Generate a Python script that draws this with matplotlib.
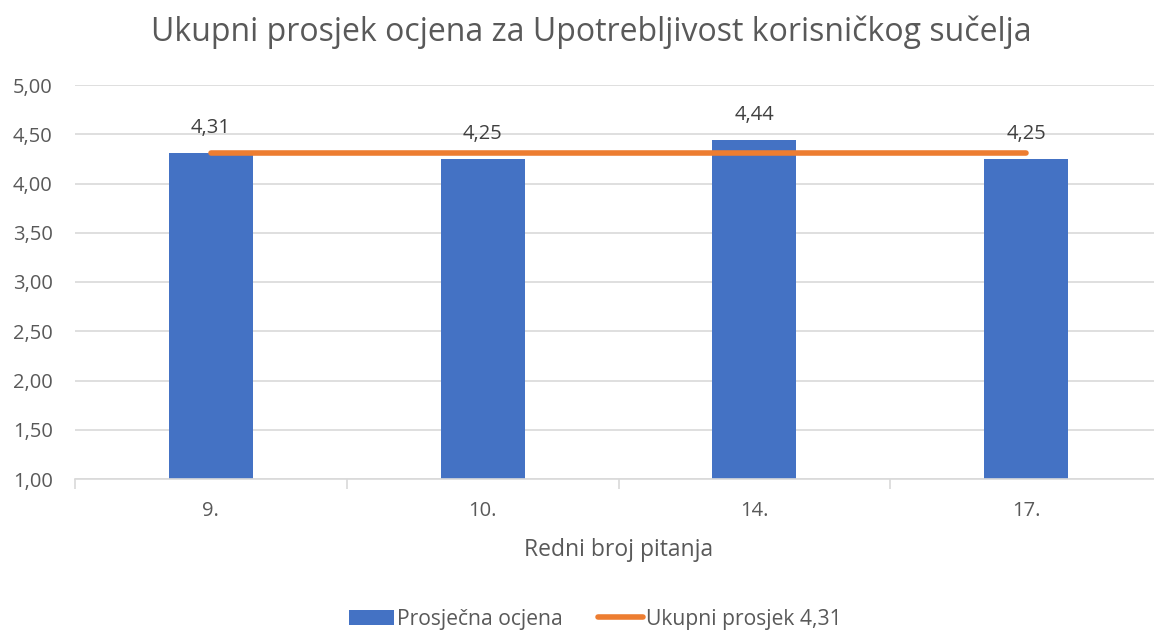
import matplotlib.pyplot as plt
import numpy as np

# podaci
pitanja = ['9.', '10.', '14.', '17.']
ocjene = [4.31, 4.25, 4.44, 4.25]
ukupni_prosjek = 4.31

plt.rcParams['font.family'] = ['Open Sans', 'DejaVu Sans']

siva = '#595959'
mreza = '#d9d9d9'
plava = '#4472c4'
narancasta = '#ed7d31'

fig = plt.figure(figsize=(11.54, 6.32), dpi=100)
ax = fig.add_axes([75 / 1154, 1 - 479 / 632, 1087 / 1154, (479 - 85) / 632])

x = np.arange(len(pitanja))
stupci = ax.bar(x, [o - 1 for o in ocjene], bottom=1, width=0.31, color=plava,
                label='Prosječna ocjena', zorder=2)
linija, = ax.plot([x[0], x[-1]], [ukupni_prosjek] * 2, color=narancasta, lw=4,
                  solid_capstyle='round', label='Ukupni prosjek 4,31', zorder=3)

for xi, o in zip(x, ocjene):
    ax.annotate(f'{o:.2f}'.replace('.', ','), (xi, o), xytext=(0, 18),
                textcoords='offset points', ha='center', va='center',
                fontsize=14.5, color='#404040')

ax.set_xlim(-0.5, len(pitanja) - 0.5)
ax.set_ylim(1, 5)
yt = np.arange(1, 5.01, 0.5)
ax.set_yticks(yt)
ax.set_yticklabels([f'{v:.2f}'.replace('.', ',') for v in yt])
ax.set_xticks(x)
ax.set_xticklabels(pitanja)
ax.set_xticks(np.arange(-0.5, len(pitanja), 1), minor=True)
ax.tick_params(axis='x', which='major', length=0, pad=16, labelsize=14.5, labelcolor=siva)
ax.tick_params(axis='x', which='minor', length=7, width=1.2, color=mreza)
ax.tick_params(axis='y', length=0, pad=16, labelsize=14.5, labelcolor=siva)

ax.grid(axis='y', color=mreza, lw=1.2, zorder=0)
for s in ['top', 'right', 'left']:
    ax.spines[s].set_visible(False)
ax.spines['bottom'].set_color(mreza)
ax.spines['bottom'].set_linewidth(1.2)

ax.set_xlabel('Redni broj pitanja', fontsize=16.5, color=siva, labelpad=12)
fig.text(0.5126, 1 - 32 / 632, 'Ukupni prosjek ocjena za Upotrebljivost korisničkog sučelja',
         fontsize=23, color=siva, ha='center', va='center')

fig.legend([stupci, linija], ['Prosječna ocjena', 'Ukupni prosjek 4,31'],
           loc='center', bbox_to_anchor=(0.516, 1 - 619 / 632), ncol=2, frameon=False,
           fontsize=15.2, labelcolor=siva, handlelength=2.1, handletextpad=0.15,
           columnspacing=1.7)

fig.savefig('out.png', dpi=100)
